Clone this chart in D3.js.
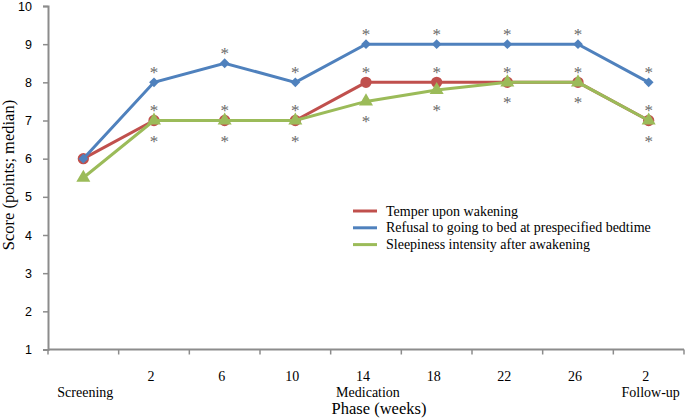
<!DOCTYPE html>
<html>
<head>
<meta charset="utf-8">
<script src="https://cdn.jsdelivr.net/npm/d3@7"></script>
<style>
body { margin: 0; background: #fff; }
</style>
</head>
<body>
<svg id="chart"></svg>
<script>
// chart data
var phases = ["Screening", "2", "6", "10", "14", "18", "22", "26", "2f"];
var tickText = ["", "2", "6", "10", "14", "18", "22", "26", "2"];
var groupText = [["Screening", 0], ["Medication", 4], ["Follow-up", 8]];
var temper = [6, 7, 7, 7, 8, 8, 8, 8, 7];
var refusal = [6, 8, 8.5, 8, 9, 9, 9, 9, 8];
var sleepiness = [5.5, 7, 7, 7, 7.5, 7.8, 8, 8, 7];
var sigTemper = [0, 1, 1, 1, 1, 1, 1, 1, 1];
var sigRefusal = [0, 1, 1, 1, 1, 1, 1, 1, 1];
var sigSleep = [0, 1, 1, 1, 1, 1, 1, 1, 1];
var yTicks = [1, 2, 3, 4, 5, 6, 7, 8, 9, 10];

var svgWidth = 685, svgHeight = 418;
var svg = d3.select("#chart").attr("width", svgWidth).attr("height", svgHeight);

var x = d3.scaleBand().domain(phases).range([48, 684]);
var y = d3.scaleLinear().domain([1, 10]).range([349.5, 6]);
var axisColor = "#8c8c8c";

// y axis
var yAxis = svg.append("g").attr("transform", "translate(48,0)")
    .call(d3.axisLeft(y).tickValues(yTicks).tickSize(5).tickPadding(11).tickFormat(d3.format("d")));
yAxis.select(".domain").attr("stroke", axisColor).attr("stroke-width", 2);
yAxis.selectAll(".tick line").attr("stroke", axisColor).attr("stroke-width", 1.5);
yAxis.selectAll("text").style("font", "12.5px 'Liberation Sans', sans-serif").attr("fill", "#000");

// x axis: ticks at band edges
var xAxis = svg.append("g").attr("transform", "translate(0,349.5)");
xAxis.append("line").attr("x1", 48).attr("x2", 684).attr("stroke", axisColor).attr("stroke-width", 2);
xAxis.selectAll(".xt").data(phases.concat(["end"])).enter().append("line")
    .attr("x1", function(d, i) { return 48 + i * x.step(); })
    .attr("x2", function(d, i) { return 48 + i * x.step(); })
    .attr("y1", 0).attr("y2", 5)
    .attr("stroke", axisColor).attr("stroke-width", 1.5);

svg.selectAll(".xl").data(phases).enter().append("text")
    .attr("x", function(d) { return x(d) + x.bandwidth() / 2 - 3; })
    .attr("y", 381)
    .attr("text-anchor", "middle")
    .style("font", "14px 'Liberation Serif', serif")
    .text(function(d, i) { return tickText[i]; });

svg.selectAll(".gl").data(groupText).enter().append("text")
    .attr("x", function(d) { return x(phases[d[1]]) + x.bandwidth() / 2 + 2; })
    .attr("y", 397)
    .attr("text-anchor", "middle")
    .style("font", "14px 'Liberation Serif', serif")
    .text(function(d) { return d[0]; });

svg.append("text").text("Phase (weeks)")
    .attr("x", 379).attr("y", 414)
    .attr("text-anchor", "middle")
    .style("font", "16.5px 'Liberation Serif', serif");

svg.append("text").text("Score (points; median)")
    .attr("text-anchor", "middle")
    .attr("transform", "translate(14,175)rotate(-90)")
    .style("font", "16.5px 'Liberation Serif', serif");

var cx = function(d, i) { return x(phases[i]) + x.bandwidth() / 2; };
var line = d3.line().x(function(d, i) { return cx(d, i); }).y(function(d) { return y(d); });

var series = [
    { name: "Temper upon wakening", values: temper, color: "#C0504D", shape: d3.symbolCircle, size: 100, rot: 0 },
    { name: "Refusal to going to bed at prespecified bedtime", values: refusal, color: "#4F81BD", shape: d3.symbolSquare, size: 48, rot: 45 },
    { name: "Sleepiness intensity after awakening", values: sleepiness, color: "#9BBB59", shape: d3.symbolTriangle, size: 85, rot: 0 }
];

series.forEach(function(s) {
    svg.append("path").datum(s.values)
        .attr("d", line)
        .attr("fill", "none")
        .attr("stroke", s.color)
        .attr("stroke-width", 3);
    svg.selectAll(null).data(s.values).enter().append("path")
        .attr("d", d3.symbol().type(s.shape).size(s.size))
        .attr("transform", function(d, i) { return "translate(" + cx(d, i) + "," + y(d) + ")rotate(" + s.rot + ")"; })
        .attr("fill", s.color);
});

// significance asterisks
function drawStars(vals, sig, dy) {
    vals.forEach(function(v, i) {
        if (!sig[i]) return;
        svg.append("text").text("*")
            .attr("x", cx(v, i)).attr("y", y(v) + dy)
            .attr("text-anchor", "middle")
            .attr("fill", "#6a6a6a")
            .style("font", "17px 'Liberation Serif', serif");
    });
}
drawStars(refusal, sigRefusal, -4.5);
drawStars(temper, sigTemper, -4.5);
drawStars(sleepiness, sigSleep, 26);

// legend
var legend = svg.append("g").attr("transform", "translate(353,211)");
series.forEach(function(s, i) {
    legend.append("line").attr("x1", 0).attr("x2", 24)
        .attr("y1", i * 16.8).attr("y2", i * 16.8)
        .attr("stroke", s.color).attr("stroke-width", 3);
    legend.append("text").text(s.name)
        .attr("x", 33).attr("y", i * 16.8 + 4.5)
        .style("font", "14px 'Liberation Serif', serif");
});
</script>
</body>
</html>
